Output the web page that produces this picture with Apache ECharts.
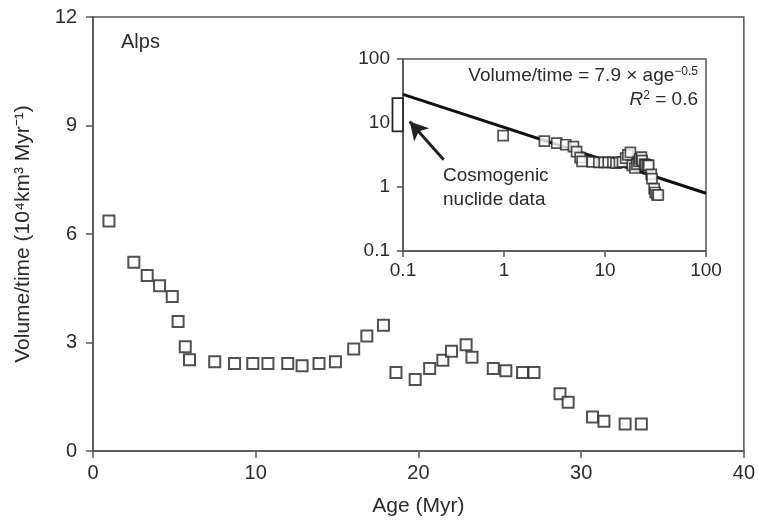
<!DOCTYPE html>
<html>
<head>
<meta charset="utf-8">
<script src="https://cdn.jsdelivr.net/npm/echarts@6/dist/echarts.min.js"></script>
<style>html,body{margin:0;padding:0;background:#fff}#c{width:758px;height:522px}</style>
</head>
<body>
<div id="c"></div>
<script>
// Data
const ages = [0.98, 2.51, 3.33, 4.09, 4.87, 5.23, 5.67, 5.93, 7.48, 8.70, 9.82, 10.75, 11.97, 12.85, 13.89, 14.9,
  16.02, 16.83, 17.85, 18.62, 19.8, 20.69, 21.5, 22.03, 22.93, 23.29, 24.6, 25.37, 26.4, 27.1,
  28.7, 29.2, 30.7, 31.4, 32.7, 33.7];
const volumes = [6.36, 5.22, 4.85, 4.57, 4.27, 3.58, 2.88, 2.52, 2.47, 2.42, 2.42, 2.42, 2.42, 2.36, 2.42, 2.47,
  2.82, 3.18, 3.48, 2.17, 1.98, 2.28, 2.51, 2.76, 2.94, 2.59, 2.28, 2.22, 2.17, 2.17,
  1.58, 1.35, 0.94, 0.82, 0.75, 0.75];
const xTicksMain = [0, 10, 20, 30, 40];
const yTicksMain = [0, 3, 6, 9, 12];
const insetTicks = [0.1, 1, 10, 100];
const fitX = [0.1, 100];
const fitY = [28, 0.8];
const cosmoAge = [0.1];
const cosmoLow = [7.4];
const cosmoHigh = [24.5];
const arrowFrom = [0.253, 2.67];
const arrowTo = [0.1165, 10.6];

const FONT = '"Liberation Sans", Arial, sans-serif';
const AX = '#555';
const TXT = '#2b2b2b';

const pts = ages.map((a, i) => [a, volumes[i]]);

const chart = echarts.init(document.getElementById('c'), null, {renderer: 'canvas'});
chart.setOption({
  animation: false,
  backgroundColor: '#fff',
  textStyle: {fontFamily: FONT},
  grid: [
    {left: 93, top: 17, width: 654, height: 436, show: true, borderColor: AX, borderWidth: 1.5, backgroundColor: 'transparent'},
    {left: 403, top: 59, width: 303, height: 192, show: true, borderColor: AX, borderWidth: 1.5, backgroundColor: '#fff'}
  ],
  xAxis: [
    {gridIndex: 0, type: 'value', min: xTicksMain[0], max: xTicksMain[xTicksMain.length-1], interval: 10,
     name: 'Age (Myr)', nameLocation: 'middle', nameGap: 45,
     nameTextStyle: {fontSize: 21, color: TXT, fontFamily: FONT},
     axisLine: {lineStyle: {color: AX, width: 1.5}},
     axisTick: {inside: false, length: 7, lineStyle: {color: AX, width: 1.5}},
     axisLabel: {fontSize: 20, color: TXT, margin: 12, fontFamily: FONT},
     splitLine: {show: false}},
    {gridIndex: 1, type: 'log', logBase: 10, min: insetTicks[0], max: insetTicks[insetTicks.length-1],
     axisLine: {lineStyle: {color: AX, width: 1.5}},
     axisTick: {inside: false, length: 6, lineStyle: {color: AX, width: 1.5}},
     axisLabel: {fontSize: 19, color: TXT, margin: 10, fontFamily: FONT, formatter: v => String(+v.toPrecision(3))},
     splitLine: {show: false}, minorTick: {show: false}}
  ],
  yAxis: [
    {gridIndex: 0, type: 'value', min: yTicksMain[0], max: yTicksMain[yTicksMain.length-1], interval: 3,
     name: 'Volume/time (10⁴km³ Myr⁻¹)', nameLocation: 'middle', nameGap: 59, nameRotate: 90,
     nameTextStyle: {fontSize: 21, color: TXT, fontFamily: FONT},
     axisLine: {lineStyle: {color: AX, width: 1.5}},
     axisTick: {inside: false, length: 7, lineStyle: {color: AX, width: 1.5}},
     axisLabel: {fontSize: 20, color: TXT, margin: 16, fontFamily: FONT},
     splitLine: {show: false}},
    {gridIndex: 1, type: 'log', logBase: 10, min: insetTicks[0], max: insetTicks[insetTicks.length-1],
     axisLine: {lineStyle: {color: AX, width: 1.5}},
     axisTick: {inside: false, length: 6, lineStyle: {color: AX, width: 1.5}},
     axisLabel: {fontSize: 19, color: TXT, margin: 13, fontFamily: FONT, formatter: v => String(+v.toPrecision(3))},
     splitLine: {show: false}, minorTick: {show: false}}
  ],
  series: [
    {type: 'scatter', xAxisIndex: 0, yAxisIndex: 0, data: pts, symbol: 'rect', symbolSize: 11,
     itemStyle: {color: '#fff', borderColor: '#262626', borderWidth: 2}},
    {type: 'line', xAxisIndex: 1, yAxisIndex: 1, data: fitX.map((x, i) => [x, fitY[i]]), symbol: 'none',
     lineStyle: {color: '#111', width: 3}, z: 2,
     markLine: {silent: true, symbol: ['none', 'arrow'], symbolSize: [15, 18],
       lineStyle: {color: '#222', width: 3, type: 'solid'}, label: {show: false},
       data: [[{coord: arrowFrom}, {coord: arrowTo}]]}},
    {type: 'scatter', xAxisIndex: 1, yAxisIndex: 1, data: pts, symbol: 'rect', symbolSize: 10, z: 3,
     itemStyle: {color: '#fff', borderColor: '#262626', borderWidth: 1.7}},
    {type: 'custom', xAxisIndex: 1, yAxisIndex: 1, clip: false, z: 4,
     data: cosmoAge.map((a, i) => [a, cosmoLow[i], cosmoHigh[i]]),
     renderItem: function (params, api) {
       const top = api.coord([api.value(0), api.value(2)]);
       const bot = api.coord([api.value(0), api.value(1)]);
       return {type: 'rect', shape: {x: top[0] - 10.5, y: top[1], width: 10.5, height: bot[1] - top[1]},
               style: {fill: '#fff', stroke: '#262626', lineWidth: 1.8}};
     }}
  ],
  graphic: [
    {type: 'text', left: 121, top: 32, style: {text: 'Alps', fontSize: 20, fill: TXT, fontFamily: FONT}},
    {type: 'text', right: 60, top: 66, style: {text: 'Volume/time = 7.9 × age{s|−0.5}', fontSize: 19, fill: TXT, fontFamily: FONT,
      rich: {s: {fontSize: 12, verticalAlign: 'top', fill: TXT, fontFamily: FONT}}}},
    {type: 'text', right: 60, top: 90, style: {text: '{i|R}{s|2} = 0.6', fontSize: 19, fill: TXT, fontFamily: FONT,
      rich: {i: {fontStyle: 'italic', fontSize: 19, fill: TXT, fontFamily: FONT}, s: {fontSize: 12, verticalAlign: 'top', fill: TXT, fontFamily: FONT}}}},
    {type: 'text', left: 443, top: 164, style: {text: 'Cosmogenic\nnuclide data', fontSize: 19, lineHeight: 24, fill: TXT, fontFamily: FONT}}
  ]
});
</script>
</body>
</html>
